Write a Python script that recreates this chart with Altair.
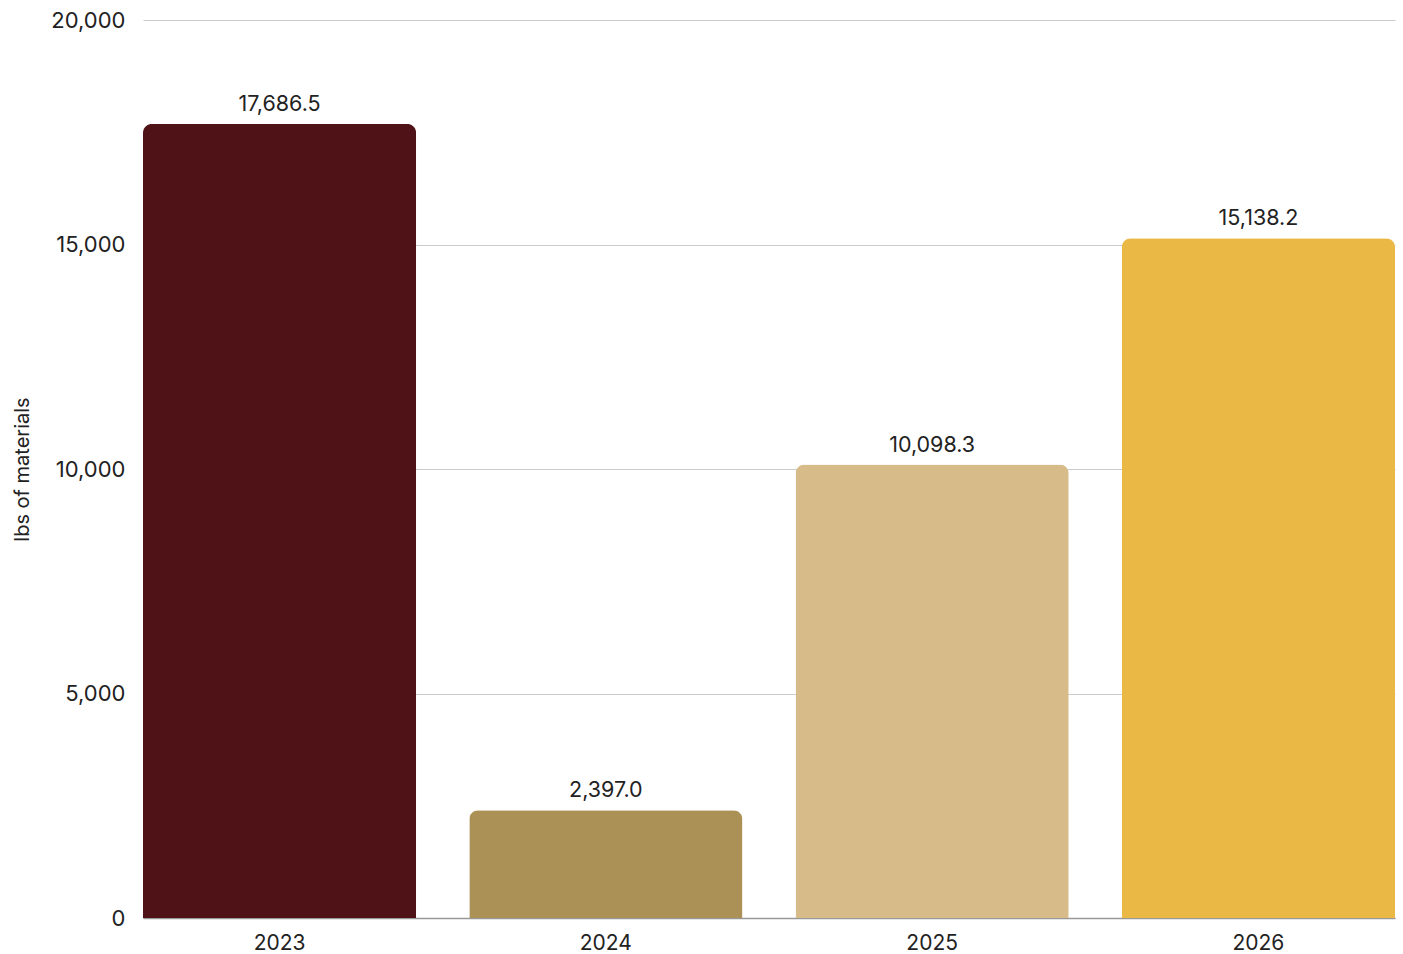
import altair as alt
import pandas as pd

years = ["2023", "2024", "2025", "2026"]
values = [17686.5, 2397.0, 10098.3, 15138.2]
colors = ["#4F1216", "#AB9155", "#D7BC8A", "#EAB945"]

df = pd.DataFrame({"year": years, "value": values})

FONT = "Inter"

x = alt.X("year:N", sort=years, title=None,
          scale=alt.Scale(paddingInner=0.163, paddingOuter=0),
          axis=alt.Axis(labelAngle=0, labelFontSize=21, labelColor="#222222",
                        labelFont=FONT, ticks=False, domain=True,
                        domainColor="#999999", domainWidth=1.5, labelPadding=14))
y = alt.Y("value:Q", title="lbs of materials",
          scale=alt.Scale(domain=[0, 20000], nice=False),
          axis=alt.Axis(values=[0, 5000, 10000, 15000, 20000], format=",.0f",
                        labelFontSize=22, labelColor="#222222", labelFont=FONT,
                        titleFont=FONT, titleFontSize=20, titleFontWeight="normal",
                        titleColor="#222222", titlePadding=18,
                        ticks=False, domain=False, labelPadding=18,
                        gridColor="#cccccc", gridWidth=1))

base = alt.Chart(df)

bars = base.mark_bar(cornerRadiusTopLeft=9, cornerRadiusTopRight=9).encode(
    x=x, y=y,
    color=alt.Color("year:N", scale=alt.Scale(domain=years, range=colors), legend=None),
)

labels = base.mark_text(baseline="bottom", dy=-8, fontSize=21.5, font=FONT,
                        color="#222222").encode(
    x=x,
    y=y,
    text=alt.Text("value:Q", format=",.1f"),
)

chart = (bars + labels).properties(
    width=1252, height=898,
    background="white",
    autosize=alt.AutoSizeParams(type="none"),
    padding={"left": 143, "top": 20, "right": 8, "bottom": 36},
).configure_view(strokeWidth=0)

chart.save("out.html", embed_options={"renderer": "svg", "actions": False})
